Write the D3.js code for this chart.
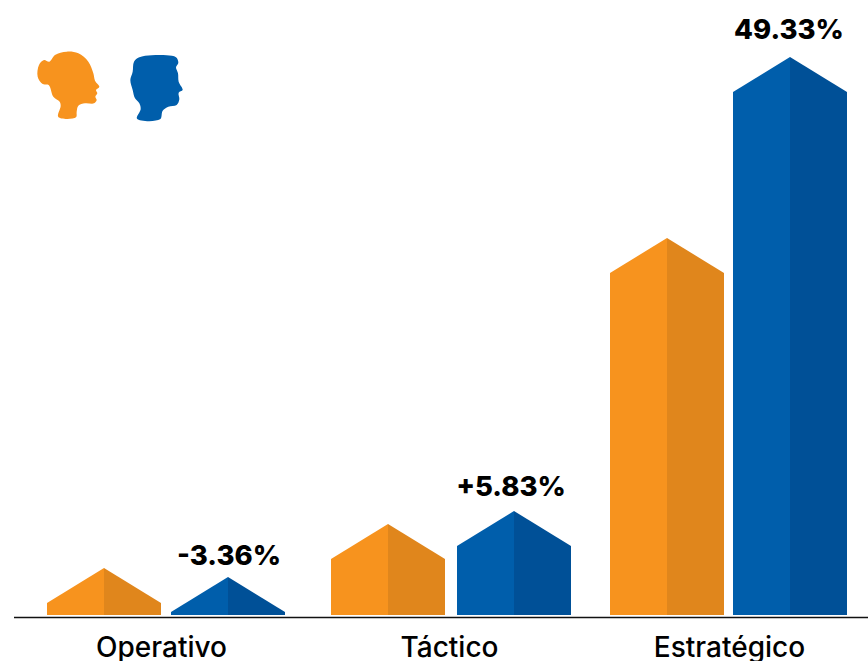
<!DOCTYPE html>
<html>
<head>
<meta charset="utf-8">
<script src="https://cdn.jsdelivr.net/npm/d3@7"></script>
<style>
html,body{margin:0;padding:0;background:#fff;overflow:hidden}
svg{display:block}
text{font-family:Inter,"Open Sans",sans-serif;fill:#000}
</style>
</head>
<body>
<svg id="c" width="868" height="661"></svg>
<script>
const categories = ["Operativo", "Táctico", "Estratégico"];
const series = ["Mujeres", "Hombres"];
const womenValues = [47, 91, 377];
const menValues = [38, 104, 558];
const gapLabels = ["-3.36%", "+5.83%", "49.33%"];

const W = 868, H = 661, base = 615, barW = 114, shoulder = 35;
const colors = {Mujeres: ["#F7931E", "#E0861C"], Hombres: ["#005EAB", "#005097"]};

const svg = d3.select("#c");
const y = d3.scaleLinear().domain([0, 558]).range([base, 57]);
const x0 = d3.scaleOrdinal().domain(categories).range([166, 451, 728.5]);
const halfGap = d3.scaleOrdinal().domain(categories).range([62, 63, 61.5]);
const sign = d3.scaleOrdinal().domain(series).range([-1, 1]);
const labelX = d3.scaleOrdinal().domain(categories).range([229, 511, 789]);
const axisX = d3.scaleOrdinal().domain(categories).range([161, 449, 729]);
const labelGap = d3.scaleOrdinal().domain(categories).range([12, 15, 18]);

const rows = categories.flatMap((c, i) => [
  {c, s: "Mujeres", v: womenValues[i]},
  {c, s: "Hombres", v: menValues[i]}
]);

const bars = svg.selectAll("g.bar").data(rows).join("g").attr("class", "bar")
  .attr("transform", d => `translate(${x0(d.c) + sign(d.s) * halfGap(d.c)},0)`);

const apexY = d => y(d.v), shoulderY = d => Math.min(y(d.v) + shoulder, base);
const halfAt = d => (base - y(d.v) >= shoulder) ? barW / 2 : (base - y(d.v)) / shoulder * barW / 2;

bars.append("path").attr("fill", d => colors[d.s][0])
  .attr("d", d => `M${-halfAt(d)},${base}V${shoulderY(d)}L0,${apexY(d)}V${base}Z`);
bars.append("path").attr("fill", d => colors[d.s][1])
  .attr("d", d => `M${halfAt(d)},${base}V${shoulderY(d)}L0,${apexY(d)}V${base}Z`);

svg.selectAll("text.gap").data(categories).join("text").attr("class", "gap")
  .attr("x", c => labelX(c))
  .attr("y", (c, i) => y(menValues[i]) - labelGap(c))
  .attr("text-anchor", "middle")
  .attr("font-size", 27.5).attr("font-weight", 800)
  .text((c, i) => gapLabels[i]);

const axis = svg.append("g").attr("transform", `translate(0,617.5)`)
  .call(d3.axisBottom(axisX).tickValues(categories).tickSize(0).tickPadding(19.5));
axis.select(".domain").remove();
axis.selectAll("text").attr("font-size", 28).attr("font-weight", 500)
  .style("font-family", 'Inter,"Open Sans",sans-serif').attr("fill", "#000");
svg.append("line").attr("x1", 14).attr("x2", W).attr("y1", 617.5).attr("y2", 617.5)
  .attr("stroke", "#111").attr("stroke-width", 1.6);

// legend silhouettes
const womanIcon = [[115,231],[122,198],[119,185],[100,170],[86,135],[68,132],[53,110],[57,75],[72,60],[88,65],[105,45],[140,35],[175,40],[205,65],[220,100],[225,122],[238,140],[228,150],[232,160],[226,170],[230,180],[222,190],[195,190],[175,197],[170,215],[168,232]];
const manIcon = [[351,236],[362,208],[358,190],[345,175],[338,150],[331,120],[338,95],[342,65],[358,52],[395,46],[440,46],[468,52],[475,68],[468,82],[474,100],[476,125],[488,150],[476,158],[478,178],[470,195],[445,200],[428,212],[420,238]];
const outline = d3.line().x(p => 20 + p[0] / 3).y(p => 40 + p[1] / 3).curve(d3.curveCatmullRomClosed.alpha(0.5));
svg.append("path").attr("d", outline(womanIcon)).attr("fill", colors.Mujeres[0]);
svg.append("path").attr("d", outline(manIcon)).attr("fill", colors.Hombres[0]);
</script>
</body>
</html>
